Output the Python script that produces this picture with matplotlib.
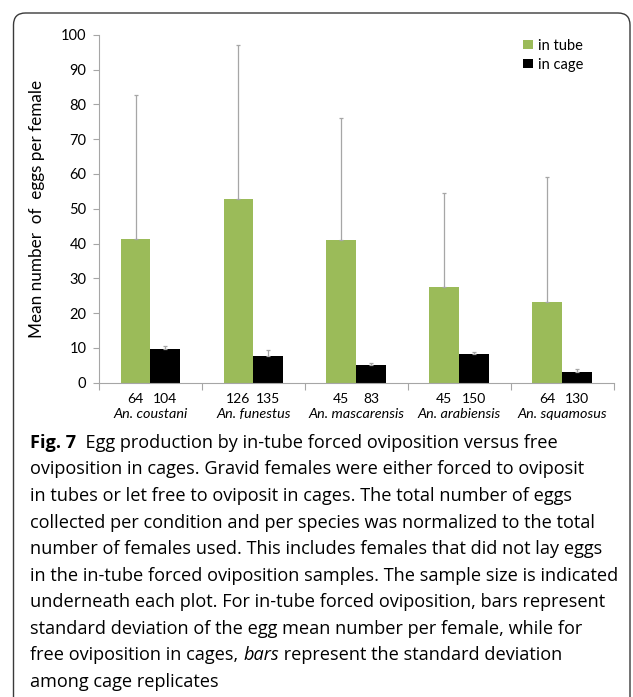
import matplotlib.pyplot as plt
from matplotlib.patches import FancyBboxPatch
import numpy as np

species = ["An. coustani", "An. funestus", "An. mascarensis", "An. arabiensis", "An. squamosus"]
n_tube = [64, 126, 45, 45, 64]
n_cage = [104, 135, 83, 150, 130]
mean_tube = [41.2, 52.8, 41.1, 27.4, 23.3]
sd_tube = [41.4, 44.3, 35.0, 27.0, 35.7]
mean_cage = [9.8, 7.6, 5.2, 8.2, 3.0]
sd_cage = [0.8, 1.9, 0.4, 0.7, 0.9]

caption_lines = [
    "oviposition in cages. Gravid females were either forced to oviposit",
    "in tubes or let free to oviposit in cages. The total number of eggs",
    "collected per condition and per species was normalized to the total",
    "number of females used. This includes females that did not lay eggs",
    "in the in-tube forced oviposition samples. The sample size is indicated",
    "underneath each plot. For in-tube forced oviposition, bars represent",
    "standard deviation of the egg mean number per female, while for",
]

green = "#9BBB59"
grey = "#A6A6A6"
W, H = 633, 697
plt.rcParams["font.family"] = ["Lato", "DejaVu Sans"]
cap_font = ["Open Sans", "DejaVu Sans"]

fig = plt.figure(figsize=(W / 100, H / 100), dpi=100)

# rounded frame around the figure panel (cut off at the bottom)
frame = FancyBboxPatch((0.135, -0.5), 6.30 - 0.135, 6.84 + 0.5,
                       boxstyle="round,pad=0,rounding_size=0.12",
                       transform=fig.dpi_scale_trans, fill=False,
                       edgecolor="#3a3a3a", linewidth=1.0)
fig.patches.append(frame)

x0, x1, ytop, ybot = 99, 613.6, 34.7, 382.7
ax = fig.add_axes([x0 / W, 1 - ybot / H, (x1 - x0) / W, (ybot - ytop) / H])

x = np.arange(len(species))
w = 0.29
zeros = np.zeros(len(species))
ax.bar(x - w / 2, mean_tube, w, color=green, label="in tube", zorder=2)
ax.bar(x + w / 2, mean_cage, w, color="black", label="in cage", zorder=2)
ax.errorbar(x - w / 2, mean_tube, yerr=[zeros, sd_tube], fmt="none",
            ecolor=grey, elinewidth=0.9, capsize=1.5, capthick=0.9, zorder=3)
ax.errorbar(x + w / 2, mean_cage, yerr=[zeros, sd_cage], fmt="none",
            ecolor=grey, elinewidth=0.9, capsize=1.5, capthick=0.9, zorder=3)

ax.set_xlim(-0.5, len(species) - 0.5)
ax.set_ylim(0, 100)
ax.set_yticks(np.arange(0, 101, 10))
ax.set_xticks(np.arange(-0.5, len(species), 1))
ax.set_xticklabels([])
ax.tick_params(axis="y", length=4, color=grey, labelsize=10.5, pad=5)
ax.tick_params(axis="x", length=5, color=grey)
for s in ["top", "right"]:
    ax.spines[s].set_visible(False)
for s in ["left", "bottom"]:
    ax.spines[s].set_color(grey)

tr = ax.get_xaxis_transform()
for i in range(len(species)):
    ax.text(x[i] - w / 2, -0.047, str(n_tube[i]), transform=tr,
            ha="center", va="center", fontsize=10)
    ax.text(x[i] + w / 2, -0.047, str(n_cage[i]), transform=tr,
            ha="center", va="center", fontsize=10)
    ax.text(x[i], -0.090, species[i], transform=tr, ha="center",
            va="center", fontsize=10.4, style="italic")

ax.set_ylabel("Mean number  of  eggs per female", fontsize=12.3)
ax.yaxis.set_label_coords(-0.105, 0.5)

ax.legend(loc="upper left", bbox_to_anchor=((516 - x0) / (x1 - x0), 1.01),
          frameon=False, fontsize=10.5, handlelength=0.65, handleheight=0.65,
          handletextpad=0.35, borderpad=0, labelspacing=0.35)

# caption
cx = 30 / W
base = 447.7
step = 26.6
csize = 13.05
t = fig.text(cx, 1 - base / H, "Fig. 7", fontsize=csize, weight="bold",
             va="baseline", family=cap_font)
ax.annotate("  Egg production by in-tube forced oviposition versus free",
            xy=(1, 0), xycoords=t, va="bottom", ha="left", fontsize=csize,
            family=cap_font, annotation_clip=False)
for i, line in enumerate(caption_lines):
    fig.text(cx, 1 - (base + step * (i + 1)) / H, line, fontsize=csize,
             va="baseline", family=cap_font)
k = len(caption_lines) + 1
t2 = fig.text(cx, 1 - (base + step * k) / H, "free oviposition in cages, ",
              fontsize=csize, va="baseline", family=cap_font)
t3 = ax.annotate("bars", xy=(1, 0), xycoords=t2, va="bottom", ha="left",
                 fontsize=csize, style="italic", family=cap_font,
                 annotation_clip=False)
ax.annotate(" represent the standard deviation", xy=(1, 0), xycoords=t3,
            va="bottom", ha="left", fontsize=csize, family=cap_font,
            annotation_clip=False)
fig.text(cx, 1 - (base + step * (k + 1)) / H, "among cage replicates",
         fontsize=csize, va="baseline", family=cap_font)

fig.savefig("out.png", dpi=100)
